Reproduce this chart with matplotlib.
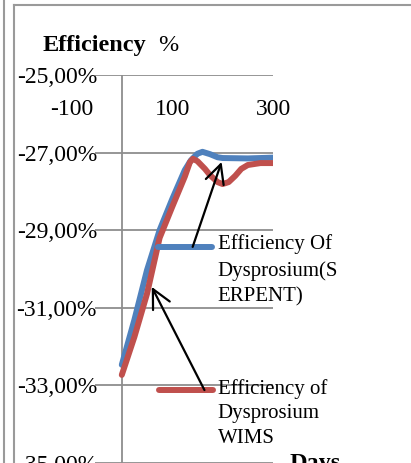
import matplotlib
matplotlib.use("Agg")
import matplotlib.pyplot as plt
from matplotlib.lines import Line2D

plt.rcParams["font.family"] = ["Liberation Serif", "DejaVu Serif"]

blue = "#4F81BD"
red = "#C0504D"
grid_gray = "#8E8E8E"

# values (days, efficiency %)
days_serpent = [0, 25, 50, 75, 100, 125, 137, 150, 160, 175, 190, 200, 250, 300]
eff_serpent = [-32.47, -31.31, -30.03, -29.0, -28.2, -27.45, -27.2, -27.03, -26.98,
               -27.04, -27.12, -27.14, -27.15, -27.13]

days_wims = [0, 25, 50, 75, 100, 125, 135, 141, 150, 165, 175, 190, 200, 212, 225,
             237, 250, 275, 300]
eff_wims = [-32.73, -31.75, -30.64, -29.2, -28.4, -27.62, -27.25, -27.16, -27.22,
            -27.42, -27.58, -27.76, -27.81, -27.76, -27.6, -27.42, -27.32, -27.27, -27.27]

y_ticks = [-25, -27, -29, -31, -33, -35]
y_labels = ["-25,00%", "-27,00%", "-29,00%", "-31,00%", "-33,00%", "-35,00%"]
x_ticks = [-100, 100, 300]
x_labels = ["-100", "100", "300"]

W, H = 411, 463
fig = plt.figure(figsize=(W / 100, H / 100), dpi=100)

# axes: x -200..300 spans px 21..273, y -25 at px 75, 38.8 px per %
ax = fig.add_axes([21 / W, (H - 470) / H, 252 / W, 395 / H])
ax.set_xlim(-200, 300)
ax.set_ylim(-25 - 395 / 38.8, -25)
for s in ax.spines.values():
    s.set_visible(False)

ax.hlines(y_ticks, -54, 300, color=grid_gray, lw=1.3, zorder=1)
ax.vlines(0, ax.get_ylim()[0], -25, color=grid_gray, lw=1.3, zorder=1)

ax.set_yticks(y_ticks, y_labels)
ax.tick_params(axis="y", length=0, pad=-54.7, labelsize=17)

ax.xaxis.tick_top()
ax.set_xticks(x_ticks, x_labels)
ax.set_xticks([100, 300], minor=True)
ax.tick_params(axis="x", which="major", length=0, pad=-32.3, labelsize=17)
ax.tick_params(axis="x", which="minor", direction="in", length=4.5, width=1.3,
               color=grid_gray)

ax.plot(days_serpent, eff_serpent, color=blue, lw=4.3, solid_capstyle="round",
        solid_joinstyle="round", zorder=3)
ax.plot(days_wims, eff_wims, color=red, lw=4.3, solid_capstyle="round",
        solid_joinstyle="round", zorder=3)

# legend drawn by hand, as in the source
ax.plot([71, 178], [-29.43, -29.43], color=blue, lw=4.3, solid_capstyle="round",
        clip_on=False, zorder=3)
ax.plot([73, 180], [-33.12, -33.12], color=red, lw=4.3, solid_capstyle="round",
        clip_on=False, zorder=3)
ax.text(190.5, -30.85, "Efficiency Of\nDysprosium(S\nERPENT)", fontsize=15,
        va="baseline", ha="left", linespacing=1.48)
ax.text(190.5, -34.48, "Efficiency of\nDysprosium\nWIMS", fontsize=15,
        va="baseline", ha="left", linespacing=1.39)

arrow = dict(arrowstyle="->,head_length=0.9,head_width=0.45", color="black", lw=1.6,
             shrinkA=0, shrinkB=0, mutation_scale=15)
ax.annotate("", xy=(198, -27.24), xytext=(140.6, -29.43), arrowprops=arrow, zorder=5)
ax.annotate("", xy=(59.4, -30.46), xytext=(164, -33.12), arrowprops=arrow, zorder=5)

# titles
fig.text(43 / W, 1 - 51 / H, "Efficiency", fontsize=17.5, fontweight="bold",
         va="baseline")
fig.text(158 / W, 1 - 51 / H, "%", fontsize=17.5, va="baseline")
fig.text(290 / W, 1 - 453 / H, "Days", fontsize=17.5, fontweight="bold", va="top")

# page / chart frame lines
fig.add_artist(Line2D([3.5 / W, 3.5 / W], [0, 1], color="#9A9A9A", lw=1.5))
fig.add_artist(Line2D([13.5 / W, 13.5 / W], [0, 1 - 5 / H], color="#9A9A9A", lw=1.5))
fig.add_artist(Line2D([13.5 / W, 1], [1 - 5 / H, 1 - 5 / H], color="#9A9A9A", lw=1.5))

fig.savefig("out.png", dpi=100)
